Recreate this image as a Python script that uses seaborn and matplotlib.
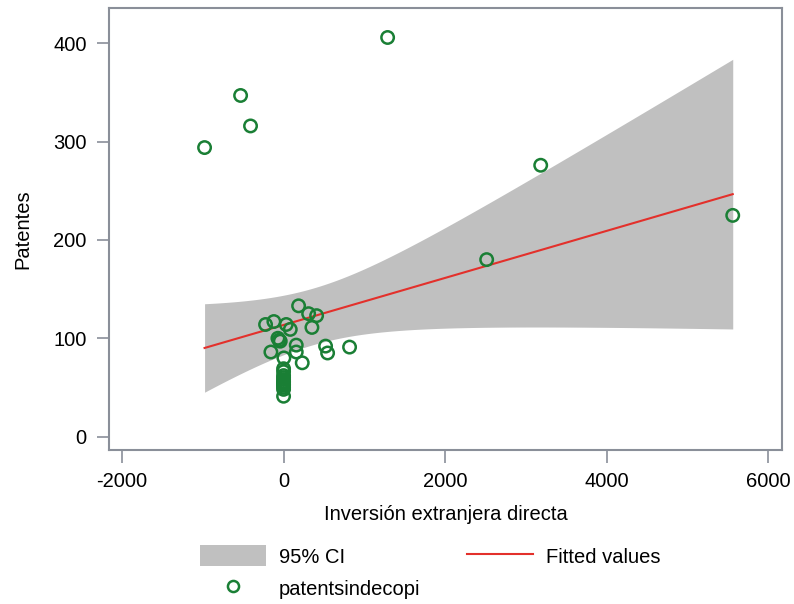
import numpy as np
import pandas as pd
import seaborn as sns
from matplotlib import pyplot as plt
from matplotlib.lines import Line2D
from matplotlib.patches import Patch

# values
ied = [1288, -532, -409, -978, 3183, 5560, 2514, 817, 520, 545,
       186, 310, 409, -223, -120, 33, 83, 351, -70, -41, -55,
       -157, 157, 157, 231, 4, 0, 0, 0, 0, 0, 0, 0, 0,
       0, 0, 0, 0]
patentes = [406, 347, 316, 294, 276, 225, 180, 91, 92, 85,
            133, 125, 123, 114, 117, 114, 109, 111, 100, 97, 98,
            86, 93, 86, 75, 80, 69, 66, 62, 58, 55, 52, 50, 41,
            60, 56, 53, 48]

x_ticks = [-2000, 0, 2000, 4000, 6000]
y_ticks = [0, 100, 200, 300, 400]

df = pd.DataFrame({'ied': ied, 'patentes': patentes})

# linear fit with 95% CI of the mean (like Stata lfitci)
x = df['ied'].to_numpy(float)
y = df['patentes'].to_numpy(float)
n = len(x)
b, a = np.polyfit(x, y, 1)
resid = y - (a + b * x)
s = np.sqrt((resid ** 2).sum() / (n - 2))
sxx = ((x - x.mean()) ** 2).sum()
grid = np.linspace(x.min(), x.max(), 200)
fit = a + b * grid
half = 2.03 * s * np.sqrt(1 / n + (grid - x.mean()) ** 2 / sxx)

plt.rcParams['font.family'] = ['Liberation Sans', 'DejaVu Sans']
plt.rcParams['axes.unicode_minus'] = False
fig = plt.figure(figsize=(7.94, 6.04), dpi=100)
ax = fig.add_axes([109 / 794, 1 - 450 / 604, 673 / 794, 442 / 604])

ax.fill_between(grid, fit - half, fit + half, color='#c0c0c0', lw=0, zorder=1)
sns.lineplot(x=grid, y=fit, ax=ax, color='#e3302b', lw=1.5, zorder=2)
sns.scatterplot(data=df, x='ied', y='patentes', ax=ax, marker='o', s=80,
                facecolors='none', edgecolor='#1a7f35', linewidth=1.8, zorder=3)

ax.set_xlim(-2161, 6170)
ax.set_ylim(-13.7, 436)
ax.set_xticks(x_ticks)
ax.set_yticks(y_ticks)
ax.tick_params(direction='out', length=9, width=1.2, labelsize=14.5,
               color='#8a8f99', pad=7)
for sp in ax.spines.values():
    sp.set_color('#8a8f99')
    sp.set_linewidth(1.5)
ax.set_xlabel('Inversión extranjera directa', fontsize=14.5, labelpad=10)
ax.set_ylabel('Patentes', fontsize=14.5, labelpad=15)

handles = [Patch(facecolor='#c0c0c0', edgecolor='none'),
           Line2D([], [], marker='o', ls='none', mfc='none', mec='#1a7f35', mew=1.8, ms=8),
           Line2D([], [], color='#e3302b', lw=1.5)]
labels = ['95% CI', 'patentsindecopi', 'Fitted values']
fig.legend(handles, labels, ncol=2, loc='upper left',
           bbox_to_anchor=(182 / 794, 1 - 527 / 604),
           frameon=False, fontsize=14.5, handlelength=3.25, handleheight=1.25,
           columnspacing=2.35, handletextpad=0.65, labelspacing=0.55)

fig.savefig('out.png', dpi=100)
